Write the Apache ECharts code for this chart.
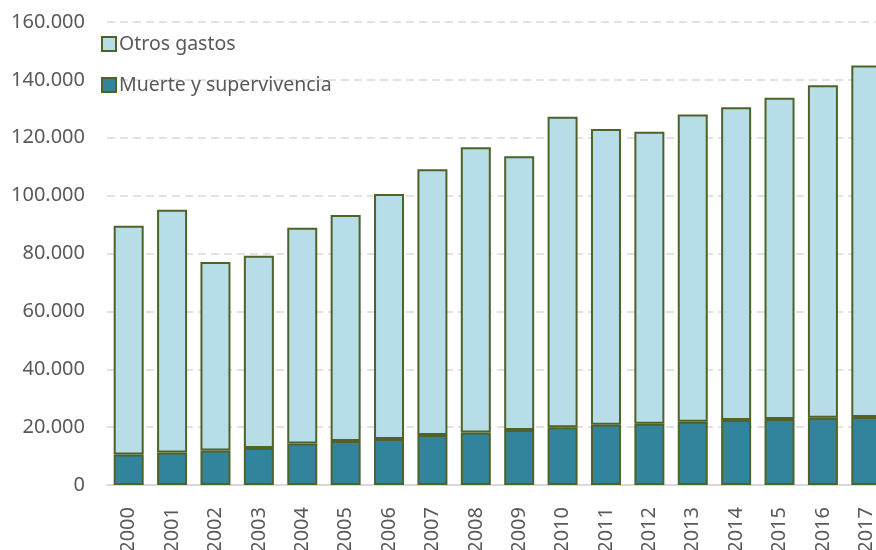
<!DOCTYPE html>
<html>
<head>
<meta charset="utf-8">
<script src="https://cdn.jsdelivr.net/npm/echarts@6/dist/echarts.min.js"></script>
<style>
  html, body { margin: 0; padding: 0; background: #fff; }
  #main { width: 876px; height: 550px; }
</style>
</head>
<body>
<div id="main"></div>
<script>
  // años
  var years = ['2000', '2001', '2002', '2003', '2004', '2005', '2006', '2007', '2008',
    '2009', '2010', '2011', '2012', '2013', '2014', '2015', '2016', '2017'];
  // Muerte y supervivencia
  var muerte = [10500, 11200, 11900, 12800, 14300, 15200, 15900, 17300, 18100,
    19000, 20000, 20800, 21200, 21900, 22500, 22800, 23200, 23500];
  // Otros gastos
  var otros = [79100, 83900, 65200, 66400, 74600, 78100, 84700, 91800, 98600,
    94600, 107300, 102200, 100900, 106100, 108000, 111000, 114900, 121500];
  var yTicks = [0, 20000, 40000, 60000, 80000, 100000, 120000, 140000, 160000];

  var font = 'Noto Sans';
  var textGrey = '#595959';

  function miles(v) {
    return String(v).replace(/\B(?=(\d{3})+(?!\d))/g, '.');
  }

  var chart = echarts.init(document.getElementById('main'));
  chart.setOption({
    animation: false,
    textStyle: { fontFamily: font },
    grid: {
      left: 107,
      top: 22,
      width: 781,
      height: 463,
      outerBoundsMode: 'none'
    },
    legend: {
      orient: 'vertical',
      left: 101,
      top: 34,
      padding: 0,
      itemWidth: 14,
      itemHeight: 14,
      itemGap: 21,
      icon: 'rect',
      data: ['Otros gastos', 'Muerte y supervivencia'],
      textStyle: { color: textGrey, fontSize: 19.5, fontFamily: font, padding: [0, 0, 0, -2] }
    },
    xAxis: {
      type: 'category',
      data: years,
      axisLine: { lineStyle: { color: '#d9d9d9', width: 2 } },
      axisTick: { show: false },
      axisLabel: { rotate: 90, color: textGrey, fontSize: 20, margin: 22 }
    },
    yAxis: {
      type: 'value',
      min: yTicks[0],
      max: yTicks[yTicks.length - 1],
      interval: yTicks[1] - yTicks[0],
      axisLine: { show: false },
      axisTick: { show: false },
      splitLine: { lineStyle: { color: '#d9d9d9', type: [8, 5], width: 1.5 } },
      axisLabel: { color: textGrey, fontSize: 20, margin: 22, formatter: miles }
    },
    series: [
      {
        name: 'Muerte y supervivencia',
        type: 'bar',
        stack: 'total',
        barWidth: 30,
        data: muerte,
        itemStyle: { color: '#31849b', borderColor: '#4f6228', borderWidth: 2 }
      },
      {
        name: 'Otros gastos',
        type: 'bar',
        stack: 'total',
        barWidth: 30,
        data: otros,
        itemStyle: { color: '#b7dde8', borderColor: '#4f6228', borderWidth: 2 }
      }
    ]
  });
</script>
</body>
</html>
